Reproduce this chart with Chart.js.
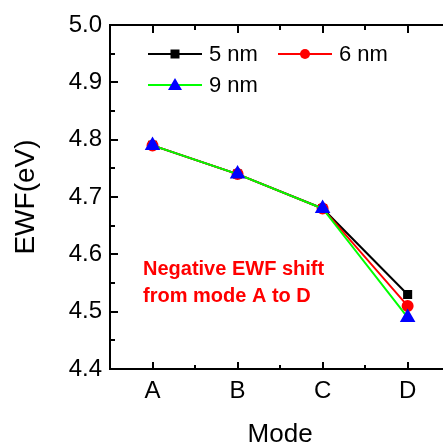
<!DOCTYPE html>
<html lang="en">
<head>
    <meta charset="UTF-8">
    <title>EWF vs Mode</title>
    <script src="https://cdn.jsdelivr.net/npm/chart.js"></script>
    <style>
        body {
            margin: 0;
            background: #fff;
        }
        #wrap {
            width: 443px;
            height: 445px;
        }
    </style>
</head>
<body>
    <div id="wrap">
        <canvas id="ewfChart" width="443" height="445"></canvas>
    </div>

    <script>
        // Data
        const modes = ['A', 'B', 'C', 'D'];
        const ewf5nm = [4.79, 4.74, 4.68, 4.53];
        const ewf6nm = [4.79, 4.74, 4.68, 4.51];
        const ewf9nm = [4.79, 4.74, 4.68, 4.49];
        const yTicks = [4.4, 4.5, 4.6, 4.7, 4.8, 4.9, 5.0];
        const seriesLabels = ['5 nm', '6 nm', '9 nm'];

        const FONT = "'Liberation Sans', Arial, sans-serif";

        function toPoints(values) {
            return values.map((v, i) => ({ x: i, y: v }));
        }

        // inward ticks, frame, legend, x title and note
        const decorations = {
            id: 'decorations',
            afterDraw(chart) {
                const ctx = chart.ctx;
                const area = chart.chartArea;
                const xs = chart.scales.x;
                const ys = chart.scales.y;
                const right = chart.width;

                ctx.save();
                ctx.strokeStyle = '#000';
                ctx.lineWidth = 2;

                // frame: left, bottom, top
                ctx.beginPath();
                ctx.moveTo(area.left, area.top);
                ctx.lineTo(area.left, area.bottom);
                ctx.moveTo(area.left - 1, area.bottom);
                ctx.lineTo(right, area.bottom);
                ctx.moveTo(area.left - 1, area.top);
                ctx.lineTo(right, area.top);
                ctx.stroke();

                // y ticks every 0.05
                ctx.beginPath();
                for (let k = 0; k <= 12; k++) {
                    const v = 4.4 + k * 0.05;
                    const y = Math.round(ys.getPixelForValue(v));
                    const len = k % 2 === 0 ? 8 : 5;
                    ctx.moveTo(area.left, y);
                    ctx.lineTo(area.left + len, y);
                }
                // x ticks every 0.5, bottom and top
                for (let k = 0; k <= 7; k++) {
                    const v = k * 0.5;
                    const x = Math.round(xs.getPixelForValue(v));
                    const len = k % 2 === 0 ? 7 : 4;
                    ctx.moveTo(x, area.bottom);
                    ctx.lineTo(x, area.bottom - len);
                    ctx.moveTo(x, area.top);
                    ctx.lineTo(x, area.top + len + 1);
                }
                ctx.stroke();

                // x axis title, centred between A and D
                ctx.fillStyle = '#000';
                ctx.font = '26px ' + FONT;
                ctx.textAlign = 'center';
                ctx.textBaseline = 'alphabetic';
                ctx.fillText('Mode', xs.getPixelForValue(1.5), 442);

                // legend
                const items = [
                    { ds: 0, x: 148, y: 54 },
                    { ds: 1, x: 278, y: 54 },
                    { ds: 2, x: 148, y: 85 }
                ];
                ctx.font = '22px ' + FONT;
                ctx.textBaseline = 'middle';
                ctx.textAlign = 'left';
                items.forEach(it => {
                    const d = chart.data.datasets[it.ds];
                    ctx.strokeStyle = d.borderColor;
                    ctx.lineWidth = 2;
                    ctx.beginPath();
                    ctx.moveTo(it.x, it.y);
                    ctx.lineTo(it.x + 54, it.y);
                    ctx.stroke();
                    drawMarker(ctx, d.pointStyle, it.x + 27, it.y, d.pointBackgroundColor);
                    ctx.fillStyle = '#000';
                    ctx.fillText(d.label, it.x + 61, it.y + 1);
                });

                // note
                ctx.fillStyle = '#ff0000';
                ctx.font = 'bold 20px ' + FONT;
                ctx.textBaseline = 'alphabetic';
                ctx.fillText('Negative EWF shift', 143, 275);
                ctx.fillText('from mode A to D', 143, 302);

                ctx.restore();
            }
        };

        function drawMarker(ctx, style, x, y, color) {
            ctx.fillStyle = color;
            ctx.beginPath();
            if (style === 'rect') {
                ctx.rect(x - 4.5, y - 4.5, 9, 9);
            } else if (style === 'circle') {
                ctx.arc(x, y, 5, 0, Math.PI * 2);
            } else {
                ctx.moveTo(x, y - 7);
                ctx.lineTo(x + 7, y + 5);
                ctx.lineTo(x - 7, y + 5);
                ctx.closePath();
            }
            ctx.fill();
        }

        new Chart(document.getElementById('ewfChart'), {
            type: 'line',
            data: {
                datasets: [
                    {
                        label: seriesLabels[0],
                        data: toPoints(ewf5nm),
                        borderColor: '#000000',
                        pointBackgroundColor: '#000000',
                        pointBorderColor: '#000000',
                        pointStyle: 'rect',
                        pointRadius: 5,
                        borderWidth: 2,
                        order: 3
                    },
                    {
                        label: seriesLabels[1],
                        data: toPoints(ewf6nm),
                        borderColor: '#ff0000',
                        pointBackgroundColor: '#ff0000',
                        pointBorderColor: '#ff0000',
                        pointStyle: 'circle',
                        pointRadius: 5,
                        borderWidth: 2,
                        order: 2
                    },
                    {
                        label: seriesLabels[2],
                        data: toPoints(ewf9nm),
                        borderColor: '#00ff00',
                        pointBackgroundColor: '#0000ff',
                        pointBorderColor: '#0000ff',
                        pointStyle: 'triangle',
                        pointRadius: 7,
                        borderWidth: 2,
                        order: 1
                    }
                ]
            },
            options: {
                responsive: false,
                devicePixelRatio: 1,
                animation: false,
                layout: {
                    padding: { top: 25, right: 0, left: 0, bottom: 0 }
                },
                plugins: {
                    legend: { display: false },
                    tooltip: { enabled: false }
                },
                scales: {
                    x: {
                        type: 'linear',
                        min: -0.5,
                        max: 3.31,
                        afterBuildTicks: scale => {
                            scale.ticks = modes.map((m, i) => ({ value: i }));
                        },
                        afterFit: scale => {
                            scale.height = 76;
                        },
                        grid: { display: false, drawTicks: false },
                        border: { display: false },
                        ticks: {
                            callback: v => modes[v],
                            color: '#000',
                            padding: 8,
                            maxRotation: 0,
                            font: { family: FONT, size: 24 }
                        },
                        title: { display: false }
                    },
                    y: {
                        min: 4.4,
                        max: 5.0,
                        afterBuildTicks: scale => {
                            scale.ticks = yTicks.map(v => ({ value: v }));
                        },
                        afterFit: scale => {
                            scale.width = 110;
                        },
                        grid: { display: false, drawTicks: false },
                        border: { display: false },
                        ticks: {
                            callback: v => v.toFixed(1),
                            color: '#000',
                            padding: 8,
                            font: { family: FONT, size: 24 }
                        },
                        title: {
                            display: true,
                            text: 'EWF(eV)',
                            color: '#000',
                            padding: { top: 12, bottom: 0 },
                            font: { family: FONT, size: 28, lineHeight: 1 }
                        }
                    }
                }
            },
            plugins: [decorations]
        });
    </script>
</body>
</html>
